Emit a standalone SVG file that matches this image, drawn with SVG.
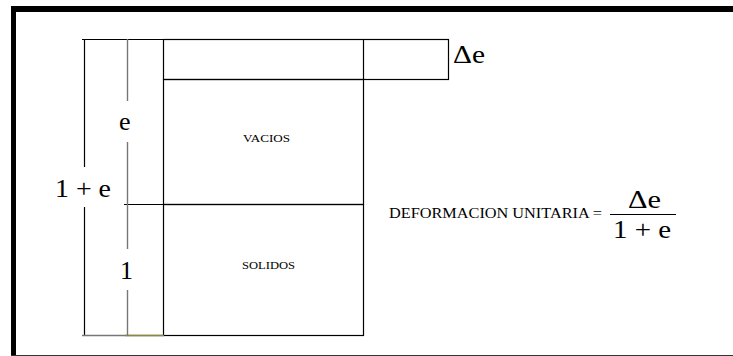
<svg xmlns="http://www.w3.org/2000/svg" width="733" height="356" viewBox="0 0 733 356">
<style>
.ln{stroke:#000;stroke-width:1.2;fill:none}
.gr{stroke:#777;stroke-width:1.4;fill:none}
text{font-family:'Liberation Serif','Times New Roman','DejaVu Serif',serif;fill:#000}
.big{font-size:26px}
.sm{font-size:11px}
.md{font-size:14px}
</style>
<rect width="733" height="356" fill="#fff"/>
<g id="frame">
<rect x="11" y="6" width="722" height="6" fill="#000"/>
<rect x="11" y="6" width="5" height="350" fill="#000"/>
<line x1="11" y1="355.5" x2="733" y2="355.5" stroke="#333" stroke-width="1"/>
</g>
<g id="vacios">
<rect class="ln" x="163.5" y="79.5" width="200" height="125"/>
<text class="sm" font-family="Liberation Serif, serif" x="243" y="142" textLength="47" lengthAdjust="spacingAndGlyphs">VACIOS</text>
</g>
<g id="solidos">
<rect class="ln" x="163.5" y="204.5" width="200" height="131"/>
<text class="sm" font-family="Liberation Serif, serif" x="242" y="269" textLength="53" lengthAdjust="spacingAndGlyphs">SOLIDOS</text>
</g>
<g id="delta">
<rect class="ln" x="163.5" y="39.5" width="285" height="40"/>
<line class="ln" x1="363.5" y1="39.5" x2="363.5" y2="79.5"/>
<text class="big" font-family="Liberation Serif, serif" x="453" y="63" textLength="32" lengthAdjust="spacingAndGlyphs">Δe</text>
</g>
<g id="formula">
<text class="md" font-family="Liberation Serif, serif" x="389" y="218" textLength="213" lengthAdjust="spacingAndGlyphs">DEFORMACION UNITARIA =</text>
<text class="big" font-family="Liberation Serif, serif" x="628" y="208" textLength="33" lengthAdjust="spacingAndGlyphs">Δe</text>
<line class="ln" x1="610" y1="214.5" x2="676" y2="214.5"/>
<text class="big" font-family="Liberation Serif, serif" x="613" y="238" textLength="58" lengthAdjust="spacingAndGlyphs">1 + e</text>
</g>
<g id="labels">
<text class="big" font-family="Liberation Serif, serif" x="55" y="197" textLength="56" lengthAdjust="spacingAndGlyphs">1 + e</text>
<text class="big" font-family="Liberation Serif, serif" x="119" y="130">e</text>
<text class="big" font-family="Liberation Serif, serif" x="120" y="279">1</text>
</g>
<g id="connectors">
<line class="ln" x1="82" y1="39.5" x2="164" y2="39.5"/>
<line class="ln" x1="84.5" y1="39" x2="84.5" y2="167"/>
<line class="ln" x1="84.5" y1="207" x2="84.5" y2="336"/>
<line class="ln" x1="124" y1="204.5" x2="164" y2="204.5"/>
<line class="gr" x1="82" y1="335.5" x2="164" y2="335.5"/>
<line stroke="#8a8a40" stroke-width="1.4" x1="125" y1="335.5" x2="163" y2="335.5"/>
<line class="gr" x1="127.5" y1="39" x2="127.5" y2="101"/>
<line class="gr" x1="127.5" y1="142" x2="127.5" y2="249"/>
<line class="gr" x1="127.5" y1="290" x2="127.5" y2="336"/>
</g>
</svg>
